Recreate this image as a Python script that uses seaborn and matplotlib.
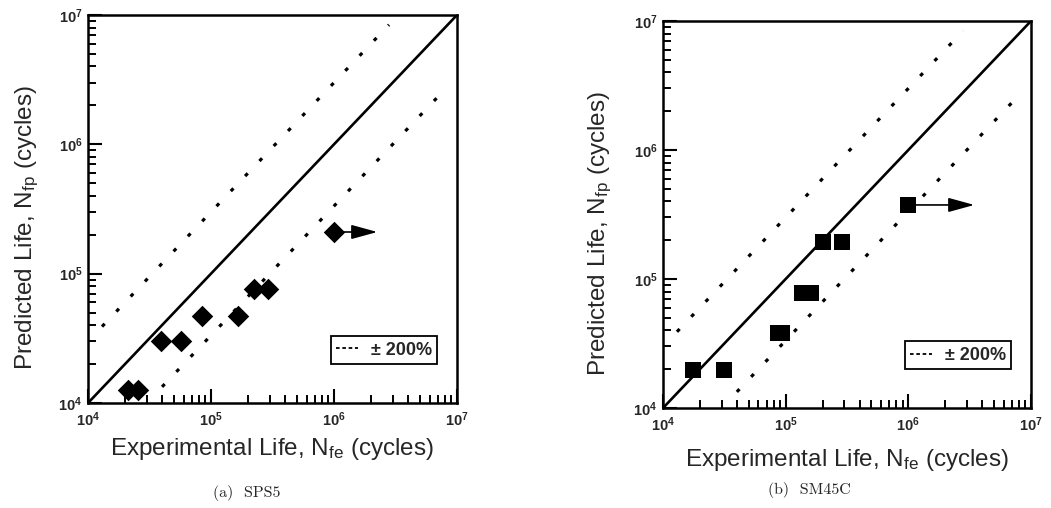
import matplotlib
matplotlib.use("Agg")
import matplotlib.pyplot as plt
from matplotlib.lines import Line2D
from matplotlib.ticker import LogLocator, NullFormatter
import seaborn as sns

sns.set_style("ticks")
plt.rcParams['font.family'] = ['Liberation Sans', 'DejaVu Sans']
plt.rcParams['mathtext.fontset'] = 'custom'
plt.rcParams['mathtext.rm'] = 'Liberation Sans'
plt.rcParams['mathtext.it'] = 'Liberation Sans:italic'

# ---- data ----
axis_limits = [1e4, 1e7]
band_factor = 3.0
upper_band_x = [1.3e4, 2.8e6]
lower_band_x = [4.0e4, 8.3e6]

sps5_exp = [2.1e4, 2.55e4, 3.9e4, 5.7e4, 8.5e4, 1.66e5, 2.25e5, 2.9e5, 1.0e6]
sps5_pred = [1.25e4, 1.25e4, 3.0e4, 3.0e4, 4.7e4, 4.7e4, 7.6e4, 7.6e4, 2.1e5]
sps5_runout_end = 2.25e6

sm45c_exp = [1.75e4, 3.15e4, 8.6e4, 9.4e4, 1.37e5, 1.6e5, 2.02e5, 2.88e5, 1.0e6]
sm45c_pred = [1.96e4, 1.96e4, 3.8e4, 3.8e4, 7.8e4, 7.8e4, 1.95e5, 1.95e5, 3.75e5]
sm45c_runout_end = 3.45e6

xlabel = "Experimental Life, N$_{\\mathregular{fe}}$ (cycles)"
ylabel = "Predicted Life, N$_{\\mathregular{fp}}$ (cycles)"
legend_label = "± 200%"
captions = ["(a)  SPS5", "(b)  SM45C"]

W, H = 1051, 508
fig = plt.figure(figsize=(W / 100, H / 100), dpi=100)
ax1 = fig.add_axes([88 / W, 1 - 403 / H, 369 / W, 388 / H])
ax2 = fig.add_axes([663 / W, 1 - 408 / H, 368 / W, 387 / H])

rect_marker = [(-1.0, -0.9), (1.0, -0.9), (1.0, 0.9), (-1.0, 0.9), (-1.0, -0.9)]


def draw_panel(ax, xs, ys, runout_end, marker, msize, xlab_y):
    ax.set_xscale('log')
    ax.set_yscale('log')
    # 1:1 line
    sns.lineplot(x=axis_limits, y=axis_limits, ax=ax, color='k', lw=1.9, zorder=3)
    # +-200% bands
    ux = upper_band_x
    uy = [v * band_factor for v in ux]
    lx = lower_band_x
    ly = [v / band_factor for v in lx]
    sns.lineplot(x=ux, y=uy, ax=ax, color='k', lw=2.3, linestyle=(0, (1.2, 5.3)), zorder=3)
    sns.lineplot(x=lx, y=ly, ax=ax, color='k', lw=2.3, linestyle=(0, (1.2, 5.3)), zorder=3)
    # run-out arrow
    ax.annotate('', xy=(runout_end, ys[-1]), xytext=(xs[-1], ys[-1]),
                arrowprops=dict(arrowstyle='-|>,head_length=0.8,head_width=0.22',
                                mutation_scale=20, lw=1.2, color='k',
                                shrinkA=0, shrinkB=0), zorder=4)
    sns.scatterplot(x=xs, y=ys, ax=ax, marker=marker, s=msize, color='k',
                    edgecolor='k', linewidth=0, zorder=5)
    ax.set_xlim(axis_limits)
    ax.set_ylim(axis_limits)
    ax.xaxis.set_major_locator(LogLocator(base=10, numticks=10))
    ax.yaxis.set_major_locator(LogLocator(base=10, numticks=10))
    ax.xaxis.set_minor_locator(LogLocator(base=10, subs=range(2, 10), numticks=30))
    ax.yaxis.set_minor_locator(LogLocator(base=10, subs=range(2, 10), numticks=30))
    ax.xaxis.set_minor_formatter(NullFormatter())
    ax.yaxis.set_minor_formatter(NullFormatter())
    ax.tick_params(which='both', direction='in', top=False, right=False, color='k')
    ax.tick_params(which='major', length=10, width=1.5, labelsize=10.5)
    ax.tick_params(which='minor', length=6, width=1.4)
    ax.tick_params(axis='x', which='major', pad=5)
    ax.tick_params(axis='y', which='major', pad=4)
    for t in ax.xaxis.get_major_ticks() + ax.yaxis.get_major_ticks():
        t.label1.set_fontweight('bold')
    for sp in ax.spines.values():
        sp.set_linewidth(1.8)
        sp.set_color('k')
    ax.set_xlabel(xlabel, fontsize=17.5)
    ax.xaxis.set_label_coords(0.5, xlab_y)
    ax.xaxis.label.set_va('top')
    ax.set_ylabel('')
    handle = Line2D([0], [0], color='k', lw=1.3, linestyle=(0, (2.0, 1.5)))
    leg = ax.legend(handles=[handle], labels=[legend_label], loc='lower right',
                    bbox_to_anchor=(0.946, 0.10), borderaxespad=0, frameon=True,
                    fancybox=False, edgecolor='k', framealpha=1, handlelength=1.2,
                    handletextpad=0.7, borderpad=0.3, prop={'size': 13, 'weight': 'bold'})
    leg.get_frame().set_linewidth(1.3)


draw_panel(ax1, sps5_exp, sps5_pred, sps5_runout_end, 'D', 120, -0.086)
draw_panel(ax2, sm45c_exp, sm45c_pred, sm45c_runout_end, rect_marker, 145, -0.101)

fig.text(27 / W, 1 - 228 / H, ylabel, rotation=90, ha='center', va='center', fontsize=17.5)
fig.text(600 / W, 1 - 234 / H, ylabel, rotation=90, ha='center', va='center', fontsize=17.5)

fig.text(247 / W, 1 - 493 / H, captions[0], ha='center', va='center', fontsize=11.5, family='cmr10')
fig.text(809 / W, 1 - 490 / H, captions[1], ha='center', va='center', fontsize=11.5, family='cmr10')

fig.savefig("out.png", dpi=100, facecolor='white')
